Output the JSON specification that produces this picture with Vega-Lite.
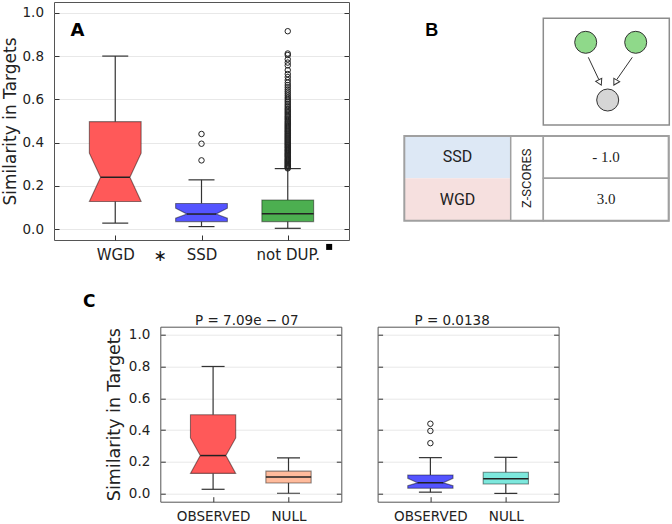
{
  "$schema": "https://vega.github.io/schema/vega-lite/v6.json",
  "autosize": {"type": "none"},
  "padding": {"left": 54, "top": 2, "right": 618, "bottom": 522},
  "background": "white",
  "bounds": "flush",
  "spacing": 324.7,
  "resolve": {"scale": {"color": "independent"}},
  "config": {
    "font": "DejaVu Sans",
    "view": {"stroke": "#555555", "strokeWidth": 1},
    "axis": {"domain": false, "labelColor": "#222222", "titleColor": "#222222", "tickColor": "#333333", "tickWidth": 1, "gridColor": "#e8e8e8", "gridWidth": 1, "titleFontWeight": "normal", "labelFont": "DejaVu Sans", "titleFont": "DejaVu Sans"},
    "title": {"font": "DejaVu Sans", "color": "#222222", "fontWeight": "normal"}
  },
  "datasets": {
    "shapes": [
      {"p": "A", "g": "WGD", "y": 0.128, "lo": 0.7, "hi": 1.3},
      {"p": "A", "g": "WGD", "y": 0.24, "lo": 0.83, "hi": 1.17, "part": "median"},
      {"p": "A", "g": "WGD", "y": 0.351, "lo": 0.7, "hi": 1.3},
      {"p": "A", "g": "WGD", "y": 0.497, "lo": 0.7, "hi": 1.3},
      {"p": "A", "g": "SSD", "y": 0.035, "lo": 1.7, "hi": 2.3},
      {"p": "A", "g": "SSD", "y": 0.051, "lo": 1.7, "hi": 2.3},
      {"p": "A", "g": "SSD", "y": 0.07, "lo": 1.83, "hi": 2.17, "part": "median"},
      {"p": "A", "g": "SSD", "y": 0.097, "lo": 1.7, "hi": 2.3},
      {"p": "A", "g": "SSD", "y": 0.119, "lo": 1.7, "hi": 2.3},
      {"p": "A", "g": "not DUP.", "y": 0.035, "lo": 2.7, "hi": 3.3},
      {"p": "A", "g": "not DUP.", "y": 0.071, "lo": 2.7, "hi": 3.3, "part": "median"},
      {"p": "A", "g": "not DUP.", "y": 0.135, "lo": 2.7, "hi": 3.3},
      {"p": "CL", "g": "OBSERVED", "y": 0.128, "lo": 0.7, "hi": 1.3},
      {"p": "CL", "g": "OBSERVED", "y": 0.24, "lo": 0.83, "hi": 1.17, "part": "median"},
      {"p": "CL", "g": "OBSERVED", "y": 0.351, "lo": 0.7, "hi": 1.3},
      {"p": "CL", "g": "OBSERVED", "y": 0.497, "lo": 0.7, "hi": 1.3},
      {"p": "CL", "g": "NULL", "y": 0.068, "lo": 1.7, "hi": 2.3},
      {"p": "CL", "g": "NULL", "y": 0.105, "lo": 1.7, "hi": 2.3, "part": "median"},
      {"p": "CL", "g": "NULL", "y": 0.142, "lo": 1.7, "hi": 2.3},
      {"p": "CR", "g": "OBSERVED", "y": 0.035, "lo": 0.7, "hi": 1.3},
      {"p": "CR", "g": "OBSERVED", "y": 0.051, "lo": 0.7, "hi": 1.3},
      {"p": "CR", "g": "OBSERVED", "y": 0.069, "lo": 0.83, "hi": 1.17, "part": "median"},
      {"p": "CR", "g": "OBSERVED", "y": 0.097, "lo": 0.7, "hi": 1.3},
      {"p": "CR", "g": "OBSERVED", "y": 0.118, "lo": 0.7, "hi": 1.3},
      {"p": "CR", "g": "NULL", "y": 0.061, "lo": 1.7, "hi": 2.3},
      {"p": "CR", "g": "NULL", "y": 0.095, "lo": 1.7, "hi": 2.3, "part": "median"},
      {"p": "CR", "g": "NULL", "y": 0.135, "lo": 1.7, "hi": 2.3}
    ],
    "whiskers": [
      {"p": "A", "x": 1, "wlo": 0.028, "q1": 0.128, "q3": 0.497, "whi": 0.8},
      {"p": "A", "x": 2, "wlo": 0.012, "q1": 0.035, "q3": 0.119, "whi": 0.228},
      {"p": "A", "x": 3, "wlo": 0.004, "q1": 0.035, "q3": 0.135, "whi": 0.28},
      {"p": "CL", "x": 1, "wlo": 0.028, "q1": 0.128, "q3": 0.497, "whi": 0.8},
      {"p": "CL", "x": 2, "wlo": 0.003, "q1": 0.068, "q3": 0.142, "whi": 0.225},
      {"p": "CR", "x": 1, "wlo": 0.01, "q1": 0.035, "q3": 0.118, "whi": 0.227},
      {"p": "CR", "x": 2, "wlo": 0.002, "q1": 0.061, "q3": 0.135, "whi": 0.229}
    ],
    "outliers": [
      {"p": "A", "x": 2, "y": 0.318}, {"p": "A", "x": 2, "y": 0.395}, {"p": "A", "x": 2, "y": 0.44},
      {"p": "CR", "x": 1, "y": 0.318}, {"p": "CR", "x": 1, "y": 0.395}, {"p": "CR", "x": 1, "y": 0.44},
      {"p": "A", "x": 3, "y": 0.281}, {"p": "A", "x": 3, "y": 0.285}, {"p": "A", "x": 3, "y": 0.289}, {"p": "A", "x": 3, "y": 0.292},
      {"p": "A", "x": 3, "y": 0.296}, {"p": "A", "x": 3, "y": 0.3}, {"p": "A", "x": 3, "y": 0.304}, {"p": "A", "x": 3, "y": 0.308},
      {"p": "A", "x": 3, "y": 0.312}, {"p": "A", "x": 3, "y": 0.316}, {"p": "A", "x": 3, "y": 0.32}, {"p": "A", "x": 3, "y": 0.324},
      {"p": "A", "x": 3, "y": 0.328}, {"p": "A", "x": 3, "y": 0.333}, {"p": "A", "x": 3, "y": 0.337}, {"p": "A", "x": 3, "y": 0.341},
      {"p": "A", "x": 3, "y": 0.345}, {"p": "A", "x": 3, "y": 0.349}, {"p": "A", "x": 3, "y": 0.353}, {"p": "A", "x": 3, "y": 0.358},
      {"p": "A", "x": 3, "y": 0.362}, {"p": "A", "x": 3, "y": 0.366}, {"p": "A", "x": 3, "y": 0.37}, {"p": "A", "x": 3, "y": 0.375},
      {"p": "A", "x": 3, "y": 0.379}, {"p": "A", "x": 3, "y": 0.383}, {"p": "A", "x": 3, "y": 0.388}, {"p": "A", "x": 3, "y": 0.392},
      {"p": "A", "x": 3, "y": 0.396}, {"p": "A", "x": 3, "y": 0.401}, {"p": "A", "x": 3, "y": 0.405}, {"p": "A", "x": 3, "y": 0.41},
      {"p": "A", "x": 3, "y": 0.414}, {"p": "A", "x": 3, "y": 0.419}, {"p": "A", "x": 3, "y": 0.423}, {"p": "A", "x": 3, "y": 0.428},
      {"p": "A", "x": 3, "y": 0.432}, {"p": "A", "x": 3, "y": 0.437}, {"p": "A", "x": 3, "y": 0.441}, {"p": "A", "x": 3, "y": 0.446},
      {"p": "A", "x": 3, "y": 0.451}, {"p": "A", "x": 3, "y": 0.455}, {"p": "A", "x": 3, "y": 0.46}, {"p": "A", "x": 3, "y": 0.465},
      {"p": "A", "x": 3, "y": 0.47}, {"p": "A", "x": 3, "y": 0.475}, {"p": "A", "x": 3, "y": 0.48}, {"p": "A", "x": 3, "y": 0.485},
      {"p": "A", "x": 3, "y": 0.49}, {"p": "A", "x": 3, "y": 0.495}, {"p": "A", "x": 3, "y": 0.5}, {"p": "A", "x": 3, "y": 0.506},
      {"p": "A", "x": 3, "y": 0.511}, {"p": "A", "x": 3, "y": 0.517}, {"p": "A", "x": 3, "y": 0.522}, {"p": "A", "x": 3, "y": 0.528},
      {"p": "A", "x": 3, "y": 0.534}, {"p": "A", "x": 3, "y": 0.54}, {"p": "A", "x": 3, "y": 0.546}, {"p": "A", "x": 3, "y": 0.552},
      {"p": "A", "x": 3, "y": 0.558}, {"p": "A", "x": 3, "y": 0.565}, {"p": "A", "x": 3, "y": 0.572}, {"p": "A", "x": 3, "y": 0.579},
      {"p": "A", "x": 3, "y": 0.587}, {"p": "A", "x": 3, "y": 0.594}, {"p": "A", "x": 3, "y": 0.602}, {"p": "A", "x": 3, "y": 0.61},
      {"p": "A", "x": 3, "y": 0.619}, {"p": "A", "x": 3, "y": 0.628}, {"p": "A", "x": 3, "y": 0.637}, {"p": "A", "x": 3, "y": 0.646},
      {"p": "A", "x": 3, "y": 0.656}, {"p": "A", "x": 3, "y": 0.666}, {"p": "A", "x": 3, "y": 0.677}, {"p": "A", "x": 3, "y": 0.689},
      {"p": "A", "x": 3, "y": 0.703}, {"p": "A", "x": 3, "y": 0.717}, {"p": "A", "x": 3, "y": 0.735}, {"p": "A", "x": 3, "y": 0.757},
      {"p": "A", "x": 3, "y": 0.77}, {"p": "A", "x": 3, "y": 0.785}, {"p": "A", "x": 3, "y": 0.805}, {"p": "A", "x": 3, "y": 0.812},
      {"p": "A", "x": 3, "y": 0.915}
    ]
  },
  "vconcat": [
    {
      "bounds": "flush",
      "spacing": 36.3,
      "resolve": {"scale": {"color": "independent"}},
      "hconcat": [
        {
          "width": 295, "height": 238,
          "resolve": {"axis": {"y": "independent"}},
          "layer": [
            {"data": {"name": "shapes"}, "transform": [{"filter": "datum.p == 'A'"}],
             "mark": {"type": "area", "orient": "horizontal", "stroke": "#000000", "strokeOpacity": 0.45, "strokeWidth": 1.1},
             "encoding": {
               "y": {"field": "y", "type": "quantitative", "scale": {"domain": [-0.05, 1.05], "nice": false, "zero": false},
                     "axis": {"orient": "left", "values": [0, 0.2, 0.4, 0.6, 0.8, 1.0], "format": ".1f", "labelFontSize": 13.5, "grid": true, "tickSize": -5, "labelPadding": 15.5, "title": "Similarity in Targets", "titleFontSize": 17, "titlePadding": 3}},
               "x": {"field": "lo", "type": "quantitative", "stack": null, "scale": {"domain": [0.29, 3.71], "nice": false, "zero": false},
                     "axis": {"values": [1, 2, 3], "labelExpr": "datum.value == 1 ? 'WGD' : datum.value == 2 ? 'SSD' : 'not DUP.'", "labelFontSize": 15, "labelOverlap": false, "grid": false, "tickSize": -5, "labelPadding": 12.5, "title": null}},
               "x2": {"field": "hi"},
               "color": {"field": "g", "type": "nominal", "scale": {"domain": ["WGD", "SSD", "not DUP."], "range": ["#ff5959", "#5454ff", "#4caf50"]}, "legend": null}
             }},
            {"data": {"name": "shapes"}, "transform": [{"filter": "datum.p == 'A' && datum.part == 'median'"}],
             "mark": {"type": "rule", "color": "#222222", "strokeWidth": 1.5},
             "encoding": {
               "y": {"field": "y", "type": "quantitative", "axis": null},
               "x": {"field": "lo", "type": "quantitative"},
               "x2": {"field": "hi"}
             }},
            {"data": {"name": "whiskers"}, "transform": [{"filter": "datum.p == 'A'"}],
             "mark": {"type": "rule", "color": "#333333", "strokeWidth": 1.2},
             "encoding": {
               "x": {"field": "x", "type": "quantitative"},
               "y": {"field": "wlo", "type": "quantitative", "axis": null},
               "y2": {"field": "q1"}
             }},
            {"data": {"name": "whiskers"}, "transform": [{"filter": "datum.p == 'A'"}],
             "mark": {"type": "rule", "color": "#333333", "strokeWidth": 1.2},
             "encoding": {
               "x": {"field": "x", "type": "quantitative"},
               "y": {"field": "q3", "type": "quantitative", "axis": null},
               "y2": {"field": "whi"}
             }},
            {"data": {"name": "whiskers"}, "transform": [{"filter": "datum.p == 'A'"}],
             "mark": {"type": "tick", "orient": "horizontal", "size": 26, "thickness": 1.2, "color": "#333333", "opacity": 1},
             "encoding": {
               "x": {"field": "x", "type": "quantitative"},
               "y": {"field": "wlo", "type": "quantitative", "axis": null}
             }},
            {"data": {"name": "whiskers"}, "transform": [{"filter": "datum.p == 'A'"}],
             "mark": {"type": "tick", "orient": "horizontal", "size": 26, "thickness": 1.2, "color": "#333333", "opacity": 1},
             "encoding": {
               "x": {"field": "x", "type": "quantitative"},
               "y": {"field": "whi", "type": "quantitative", "axis": null}
             }},
            {"data": {"name": "outliers"}, "transform": [{"filter": "datum.p == 'A'"}],
             "mark": {"type": "point", "shape": "circle", "filled": false, "size": 30, "stroke": "#222222", "strokeWidth": 1, "opacity": 1},
             "encoding": {
               "x": {"field": "x", "type": "quantitative"},
               "y": {"field": "y", "type": "quantitative", "axis": null}
             }},
            {"data": {"values": [{"t": "A", "x": 0.563, "y": 0.915}]},
             "mark": {"type": "text", "fontSize": 18, "fontWeight": "bold", "align": "center", "baseline": "middle", "color": "#000000"},
             "encoding": {
               "x": {"field": "x", "type": "quantitative"},
               "y": {"field": "y", "type": "quantitative", "axis": null},
               "text": {"field": "t"}
             }},
            {"data": {"values": [{"t": "∗", "x": 1.52, "y": -0.123}]},
             "mark": {"type": "text", "fontSize": 16, "align": "center", "baseline": "middle", "color": "#111111"},
             "encoding": {
               "x": {"field": "x", "type": "quantitative"},
               "y": {"field": "y", "type": "quantitative", "axis": null},
               "text": {"field": "t"}
             }},
            {"data": {"values": [{"x": 3.48, "y": -0.082}]},
             "mark": {"type": "point", "shape": "square", "filled": true, "size": 36, "color": "#000000", "opacity": 1},
             "encoding": {
               "x": {"field": "x", "type": "quantitative"},
               "y": {"field": "y", "type": "quantitative", "axis": null}
             }},
            {"data": {"values": [{"v": 0}]},
             "mark": {"type": "tick", "opacity": 0},
             "encoding": {
               "y": {"field": "v", "type": "quantitative",
                     "axis": {"orient": "right", "values": [0, 0.2, 0.4, 0.6, 0.8, 1.0], "labels": false, "title": null, "grid": false, "tickSize": -5}}
             }}
          ]
        },
        {
          "width": 286, "height": 238,
          "view": {"stroke": null},
          "encoding": {
            "x": {"field": "x", "type": "quantitative", "scale": {"domain": [0, 286], "nice": false, "zero": false}, "axis": null},
            "y": {"field": "y", "type": "quantitative", "scale": {"domain": [0, 238], "reverse": true, "nice": false, "zero": false}, "axis": null}
          },
          "layer": [
            {"data": {"values": [{"x": 19, "x2": 125.4, "y": 134, "y2": 176.3}]},
             "mark": {"type": "rect", "fill": "#dde8f5"},
             "encoding": {"x2": {"field": "x2"}, "y2": {"field": "y2"}}},
            {"data": {"values": [{"x": 19, "x2": 125.4, "y": 176.3, "y2": 218.7}]},
             "mark": {"type": "rect", "fill": "#f6e0df"},
             "encoding": {"x2": {"field": "x2"}, "y2": {"field": "y2"}}},
            {"data": {"values": [{"x": 125.4, "x2": 158, "y": 134, "y2": 218.7}, {"x": 158, "x2": 283.4, "y": 134, "y2": 176.3}, {"x": 158, "x2": 283.4, "y": 176.3, "y2": 218.7}]},
             "mark": {"type": "rect", "fill": "#ffffff", "stroke": "#a0a0a0", "strokeWidth": 1.5},
             "encoding": {"x2": {"field": "x2"}, "y2": {"field": "y2"}}},
            {"data": {"values": [{"x": 19, "x2": 283.4, "y": 134, "y2": 218.7}]},
             "mark": {"type": "rect", "fill": null, "stroke": "#a0a0a0", "strokeWidth": 2},
             "encoding": {"x2": {"field": "x2"}, "y2": {"field": "y2"}}},
            {"data": {"values": [{"x": 158, "x2": 284, "y": 16.3, "y2": 123}]},
             "mark": {"type": "rect", "fill": "#ffffff", "stroke": "#8c8c8c", "strokeWidth": 1.5},
             "encoding": {"x2": {"field": "x2"}, "y2": {"field": "y2"}}},
            {"data": {"values": [{"x": 203, "y": 55.3, "x2": 213.5, "y2": 77.5}, {"x": 247, "y": 55.3, "x2": 231.5, "y2": 77.5}]},
             "mark": {"type": "rule", "color": "#333333", "strokeWidth": 1},
             "encoding": {"x2": {"field": "x2"}, "y2": {"field": "y2"}}},
            {"data": {"values": [{"x": 214.7, "y": 80.5}]},
             "mark": {"type": "point", "shape": "triangle-down", "angle": -26, "size": 45, "filled": true, "fill": "#ffffff", "stroke": "#333333", "strokeWidth": 1, "opacity": 1}},
            {"data": {"values": [{"x": 230, "y": 80.5}]},
             "mark": {"type": "point", "shape": "triangle-down", "angle": 30, "size": 45, "filled": true, "fill": "#ffffff", "stroke": "#333333", "strokeWidth": 1, "opacity": 1}},
            {"data": {"values": [{"x": 200.4, "y": 40.3}, {"x": 250.4, "y": 40.3}]},
             "mark": {"type": "point", "shape": "circle", "size": 484, "filled": true, "fill": "#8fd98a", "stroke": "#333333", "strokeWidth": 1, "opacity": 1}},
            {"data": {"values": [{"x": 222.4, "y": 98}]},
             "mark": {"type": "point", "shape": "circle", "size": 484, "filled": true, "fill": "#d6d6d6", "stroke": "#333333", "strokeWidth": 1, "opacity": 1}},
            {"data": {"values": [{"t": "B", "x": 46.4, "y": 28.7}]},
             "mark": {"type": "text", "font": "Liberation Sans", "fontSize": 18, "fontWeight": "bold", "align": "center", "baseline": "middle", "color": "#000000"},
             "encoding": {"text": {"field": "t"}}},
            {"data": {"values": [{"t": "SSD", "x": 72.2, "y": 155.2}, {"t": "WGD", "x": 72.2, "y": 197.5}]},
             "mark": {"type": "text", "font": "Roboto", "fontSize": 16, "align": "center", "baseline": "middle", "color": "#222222"},
             "encoding": {"text": {"field": "t"}}},
            {"data": {"values": [{"t": "Z-SCORES", "x": 141.7, "y": 176.3}]},
             "mark": {"type": "text", "font": "Roboto", "fontSize": 13, "angle": 270, "align": "center", "baseline": "middle", "color": "#222222"},
             "encoding": {"text": {"field": "t"}}},
            {"data": {"values": [{"t": "- 1.0", "x": 220.7, "y": 155}, {"t": "3.0", "x": 220.7, "y": 197.3}]},
             "mark": {"type": "text", "font": "Liberation Serif", "fontSize": 15, "align": "center", "baseline": "middle", "color": "#222222"},
             "encoding": {"text": {"field": "t"}}}
          ]
        }
      ]
    },
    {
      "bounds": "flush",
      "spacing": 36.3,
      "resolve": {"scale": {"color": "independent"}},
      "hconcat": [
        {
          "width": 69.7, "height": 175,
          "view": {"stroke": null},
          "title": {"text": "C", "anchor": "start", "frame": "group", "dx": 29, "offset": 3, "fontSize": 17, "fontWeight": "bold", "color": "#000000", "baseline": "alphabetic"},
          "data": {"values": [{"t": ""}]},
          "mark": {"type": "text"},
          "encoding": {"text": {"field": "t"}}
        },
        {
          "width": 181, "height": 175,
          "title": {"text": "P = 7.09e − 07", "anchor": "middle", "frame": "group", "dx": -4, "offset": -1, "fontSize": 13.5},
          "resolve": {"axis": {"y": "independent"}},
          "layer": [
            {"data": {"name": "shapes"}, "transform": [{"filter": "datum.p == 'CL'"}],
             "mark": {"type": "area", "orient": "horizontal", "stroke": "#000000", "strokeOpacity": 0.45, "strokeWidth": 1.1},
             "encoding": {
               "y": {"field": "y", "type": "quantitative", "scale": {"domain": [-0.05, 1.05], "nice": false, "zero": false},
                     "axis": {"orient": "left", "values": [0, 0.2, 0.4, 0.6, 0.8, 1.0], "format": ".1f", "labelFontSize": 13.5, "grid": true, "tickSize": -5, "labelPadding": 15.5, "title": "Similarity in Targets", "titleFontSize": 17.5, "titlePadding": 5}},
               "x": {"field": "lo", "type": "quantitative", "stack": null, "scale": {"domain": [0.3, 2.7], "nice": false, "zero": false},
                     "axis": {"values": [1, 2], "labelExpr": "datum.value == 1 ? 'OBSERVED' : 'NULL'", "labelFontSize": 13.5, "labelOverlap": false, "grid": false, "tickSize": -5, "labelPadding": 13, "title": null}},
               "x2": {"field": "hi"},
               "color": {"field": "g", "type": "nominal", "scale": {"domain": ["OBSERVED", "NULL"], "range": ["#ff5959", "#ffbb9c"]}, "legend": null}
             }},
            {"data": {"name": "shapes"}, "transform": [{"filter": "datum.p == 'CL' && datum.part == 'median'"}],
             "mark": {"type": "rule", "color": "#222222", "strokeWidth": 1.5},
             "encoding": {
               "y": {"field": "y", "type": "quantitative", "axis": null},
               "x": {"field": "lo", "type": "quantitative"},
               "x2": {"field": "hi"}
             }},
            {"data": {"name": "whiskers"}, "transform": [{"filter": "datum.p == 'CL'"}],
             "mark": {"type": "rule", "color": "#333333", "strokeWidth": 1.2},
             "encoding": {
               "x": {"field": "x", "type": "quantitative"},
               "y": {"field": "wlo", "type": "quantitative", "axis": null},
               "y2": {"field": "q1"}
             }},
            {"data": {"name": "whiskers"}, "transform": [{"filter": "datum.p == 'CL'"}],
             "mark": {"type": "rule", "color": "#333333", "strokeWidth": 1.2},
             "encoding": {
               "x": {"field": "x", "type": "quantitative"},
               "y": {"field": "q3", "type": "quantitative", "axis": null},
               "y2": {"field": "whi"}
             }},
            {"data": {"name": "whiskers"}, "transform": [{"filter": "datum.p == 'CL'"}],
             "mark": {"type": "tick", "orient": "horizontal", "size": 23, "thickness": 1.2, "color": "#333333", "opacity": 1},
             "encoding": {
               "x": {"field": "x", "type": "quantitative"},
               "y": {"field": "wlo", "type": "quantitative", "axis": null}
             }},
            {"data": {"name": "whiskers"}, "transform": [{"filter": "datum.p == 'CL'"}],
             "mark": {"type": "tick", "orient": "horizontal", "size": 23, "thickness": 1.2, "color": "#333333", "opacity": 1},
             "encoding": {
               "x": {"field": "x", "type": "quantitative"},
               "y": {"field": "whi", "type": "quantitative", "axis": null}
             }},
            {"data": {"values": [{"v": 0}]},
             "mark": {"type": "tick", "opacity": 0},
             "encoding": {
               "y": {"field": "v", "type": "quantitative",
                     "axis": {"orient": "right", "values": [0, 0.2, 0.4, 0.6, 0.8, 1.0], "labels": false, "title": null, "grid": false, "tickSize": -5}}
             }}
          ]
        },
        {
          "width": 181, "height": 175,
          "title": {"text": "P = 0.0138", "anchor": "middle", "frame": "group", "dx": -16, "offset": -1, "fontSize": 13.5},
          "resolve": {"axis": {"y": "independent"}},
          "layer": [
            {"data": {"name": "shapes"}, "transform": [{"filter": "datum.p == 'CR'"}],
             "mark": {"type": "area", "orient": "horizontal", "stroke": "#000000", "strokeOpacity": 0.45, "strokeWidth": 1.1},
             "encoding": {
               "y": {"field": "y", "type": "quantitative", "scale": {"domain": [-0.05, 1.05], "nice": false, "zero": false},
                     "axis": {"orient": "left", "values": [0, 0.2, 0.4, 0.6, 0.8, 1.0], "labels": false, "grid": true, "tickSize": -5, "title": null}},
               "x": {"field": "lo", "type": "quantitative", "stack": null, "scale": {"domain": [0.3, 2.7], "nice": false, "zero": false},
                     "axis": {"values": [1, 2], "labelExpr": "datum.value == 1 ? 'OBSERVED' : 'NULL'", "labelFontSize": 13.5, "labelOverlap": false, "grid": false, "tickSize": -5, "labelPadding": 13, "title": null}},
               "x2": {"field": "hi"},
               "color": {"field": "g", "type": "nominal", "scale": {"domain": ["OBSERVED", "NULL"], "range": ["#5454ff", "#7de8dd"]}, "legend": null}
             }},
            {"data": {"name": "shapes"}, "transform": [{"filter": "datum.p == 'CR' && datum.part == 'median'"}],
             "mark": {"type": "rule", "color": "#222222", "strokeWidth": 1.5},
             "encoding": {
               "y": {"field": "y", "type": "quantitative", "axis": null},
               "x": {"field": "lo", "type": "quantitative"},
               "x2": {"field": "hi"}
             }},
            {"data": {"name": "whiskers"}, "transform": [{"filter": "datum.p == 'CR'"}],
             "mark": {"type": "rule", "color": "#333333", "strokeWidth": 1.2},
             "encoding": {
               "x": {"field": "x", "type": "quantitative"},
               "y": {"field": "wlo", "type": "quantitative", "axis": null},
               "y2": {"field": "q1"}
             }},
            {"data": {"name": "whiskers"}, "transform": [{"filter": "datum.p == 'CR'"}],
             "mark": {"type": "rule", "color": "#333333", "strokeWidth": 1.2},
             "encoding": {
               "x": {"field": "x", "type": "quantitative"},
               "y": {"field": "q3", "type": "quantitative", "axis": null},
               "y2": {"field": "whi"}
             }},
            {"data": {"name": "whiskers"}, "transform": [{"filter": "datum.p == 'CR'"}],
             "mark": {"type": "tick", "orient": "horizontal", "size": 23, "thickness": 1.2, "color": "#333333", "opacity": 1},
             "encoding": {
               "x": {"field": "x", "type": "quantitative"},
               "y": {"field": "wlo", "type": "quantitative", "axis": null}
             }},
            {"data": {"name": "whiskers"}, "transform": [{"filter": "datum.p == 'CR'"}],
             "mark": {"type": "tick", "orient": "horizontal", "size": 23, "thickness": 1.2, "color": "#333333", "opacity": 1},
             "encoding": {
               "x": {"field": "x", "type": "quantitative"},
               "y": {"field": "whi", "type": "quantitative", "axis": null}
             }},
            {"data": {"name": "outliers"}, "transform": [{"filter": "datum.p == 'CR'"}],
             "mark": {"type": "point", "shape": "circle", "filled": false, "size": 30, "stroke": "#222222", "strokeWidth": 1, "opacity": 1},
             "encoding": {
               "x": {"field": "x", "type": "quantitative"},
               "y": {"field": "y", "type": "quantitative", "axis": null}
             }},
            {"data": {"values": [{"v": 0}]},
             "mark": {"type": "tick", "opacity": 0},
             "encoding": {
               "y": {"field": "v", "type": "quantitative",
                     "axis": {"orient": "right", "values": [0, 0.2, 0.4, 0.6, 0.8, 1.0], "labels": false, "title": null, "grid": false, "tickSize": -5}}
             }}
          ]
        }
      ]
    }
  ]
}
